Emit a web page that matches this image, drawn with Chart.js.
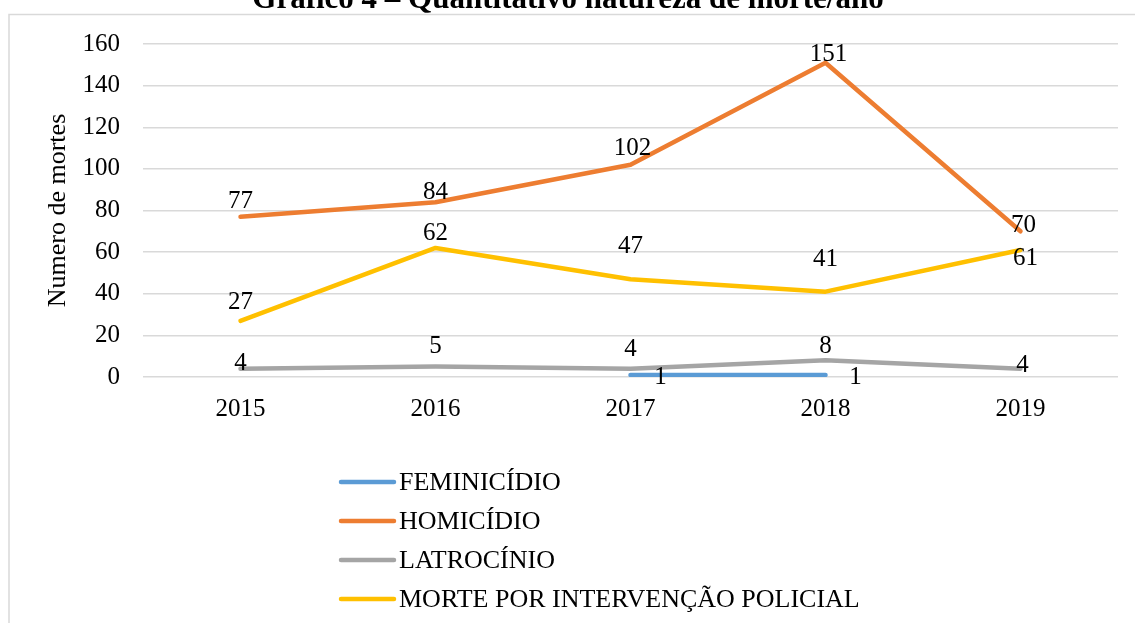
<!DOCTYPE html>
<html>
<head>
<meta charset="utf-8">
<script src="https://cdn.jsdelivr.net/npm/chart.js@4"></script>
<style>
  html, body { margin: 0; padding: 0; background: #fff; }
  #wrap { width: 1135px; height: 623px; position: relative; }
</style>
</head>
<body>
<div id="wrap"><canvas id="graphic" width="1135" height="623"></canvas></div>
<script>
// Données
const anos = ['2015', '2016', '2017', '2018', '2019'];
const feminicidio = [null, null, 1, 1, null];
const homicidio = [77, 84, 102, 151, 70];
const latrocinio = [4, 5, 4, 8, 4];
const intervencaoPolicial = [27, 62, 47, 41, 61];
const yTicks = [0, 20, 40, 60, 80, 100, 120, 140, 160];

const titulo = 'Gráfico 4 – Quantitativo natureza de morte/ano';
const serif = '"Liberation Serif", "Times New Roman", serif';

// décalage des étiquettes (dx, dy) par série, comme dans l'original
const decalages = [
  [[0, 0], [0, 0], [30, 3], [30, 3], [0, 0]],
  [[0, -15], [0, -10], [2, -16], [3, -8], [3, -6]],
  [[0, -5], [0, -20], [0, -19], [0, -14], [2, -3]],
  [[0, -18], [0, -15], [0, -33], [0, -32], [5, 8]]
];

const cadrePlugin = {
  id: 'cadre',
  beforeDraw(chart) {
    const ctx = chart.ctx;
    ctx.save();
    ctx.strokeStyle = '#D9D9D9';
    ctx.lineWidth = 1.5;
    ctx.beginPath();
    ctx.moveTo(9, 623);
    ctx.lineTo(9, 14.5);
    ctx.lineTo(1135, 14.5);
    ctx.stroke();
    ctx.restore();
  },
  afterDraw(chart) {
    const ctx = chart.ctx;
    ctx.save();
    // titre (coupé en haut)
    ctx.fillStyle = '#000';
    ctx.font = 'bold 31px ' + serif;
    ctx.textAlign = 'center';
    ctx.textBaseline = 'alphabetic';
    ctx.fillText(titulo, 568, 8);

    // étiquettes de valeurs
    ctx.font = '25px ' + serif;
    ctx.textBaseline = 'middle';
    chart.data.datasets.forEach((ds, i) => {
      const meta = chart.getDatasetMeta(i);
      meta.data.forEach((pt, j) => {
        const v = ds.data[j];
        if (v === null || v === undefined) return;
        const d = decalages[i][j];
        ctx.fillText(String(v), pt.x + d[0], pt.y + d[1]);
      });
    });

    // légende verticale
    ctx.textAlign = 'left';
    ctx.font = '26px ' + serif;
    chart.data.datasets.forEach((ds, i) => {
      const y = 482 + i * 39;
      ctx.strokeStyle = ds.borderColor;
      ctx.lineWidth = 4.5;
      ctx.lineCap = 'round';
      ctx.beginPath();
      ctx.moveTo(341, y);
      ctx.lineTo(394, y);
      ctx.stroke();
      ctx.fillStyle = '#000';
      ctx.fillText(ds.label, 399, y + 1);
    });
    ctx.restore();
  }
};

function serie(label, data, color) {
  return {
    label: label,
    data: data,
    borderColor: color,
    backgroundColor: color,
    borderWidth: 4.5,
    borderCapStyle: 'round',
    borderJoinStyle: 'round',
    pointRadius: 0,
    tension: 0,
    spanGaps: false
  };
}

const ctx = document.getElementById('graphic').getContext('2d');
new Chart(ctx, {
  type: 'line',
  data: {
    labels: anos,
    datasets: [
      serie('FEMINICÍDIO', feminicidio, '#5B9BD5'),
      serie('HOMICÍDIO', homicidio, '#ED7D31'),
      serie('LATROCÍNIO', latrocinio, '#A5A5A5'),
      serie('MORTE POR INTERVENÇÃO POLICIAL', intervencaoPolicial, '#FFC000')
    ]
  },
  options: {
    responsive: false,
    animation: false,
    layout: { padding: { top: 44, left: 10, right: 17, bottom: 206 } },
    plugins: {
      legend: { display: false },
      title: { display: false },
      tooltip: { enabled: false }
    },
    scales: {
      x: {
        offset: true,
        grid: { display: false, drawTicks: false },
        border: { display: false },
        ticks: { color: '#000', font: { family: serif, size: 25 }, padding: 17 },
        afterFit(scale) { scale.height = 40; }
      },
      y: {
        min: 0,
        max: 160,
        afterBuildTicks(scale) { scale.ticks = yTicks.map(v => ({ value: v })); },
        grid: { color: '#D9D9D9', lineWidth: 1.5, drawTicks: false },
        border: { display: false },
        ticks: { color: '#000', font: { family: serif, size: 25 }, padding: 23 },
        title: {
          display: true,
          text: 'Numero de mortes',
          color: '#000',
          font: { family: serif, size: 26 },
          padding: { top: 33, bottom: 0 }
        },
        afterFit(scale) { scale.width = 133; }
      }
    }
  },
  plugins: [cadrePlugin]
});
</script>
</body>
</html>
